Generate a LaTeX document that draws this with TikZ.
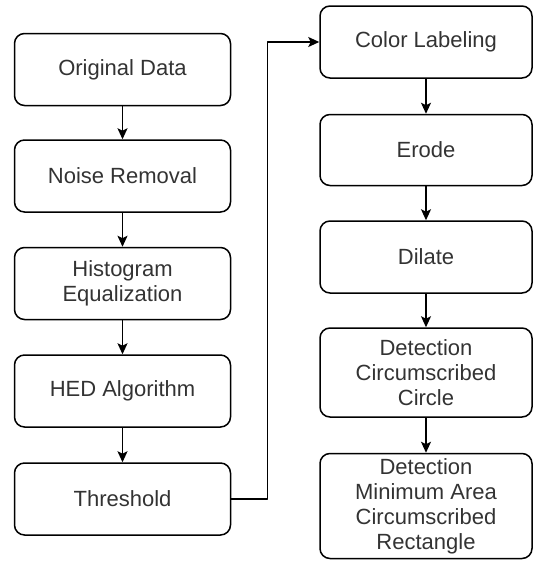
\documentclass[tikz,border=0pt]{standalone}
\usepackage{fontspec}
\setmainfont{Liberation Sans}
\usetikzlibrary{arrows.meta}
\definecolor{txtgray}{HTML}{333333}
\begin{document}
\begin{tikzpicture}[>={Stealth[length=11bp,width=10bp,inset=2.5bp]},line join=bevel,
  procbox/.style={draw=black,line width=1.5bp,rounded corners=10bp,align=center,inner sep=0pt,
    text=txtgray,font=\fontsize{22bp}{25bp}\selectfont},
  leftbox/.style={procbox,minimum width=216bp,minimum height=72bp},
  rightbox/.style={procbox,minimum width=212bp},
  flow/.style={black,line width=1.5bp,->}]
%%
\useasboundingbox (0bp,0bp) rectangle (534bp,-562bp);
\node (node_0) at (122.5bp,-69.5bp) [leftbox] {Original Data};
  \node (node_1) at (122.5bp,-176bp) [leftbox] {Noise Removal};
  \node (node_2) at (122.5bp,-283.5bp) [leftbox] {Histogram\\Equalization};
  \node (node_3) at (122.5bp,-391bp) [leftbox] {HED Algorithm};
  \node (node_4) at (122.5bp,-499bp) [leftbox] {Threshold};
  \node (node_5) at (426bp,-42bp) [rightbox,minimum height=72bp] {Color Labeling};
  \node (node_6) at (426bp,-150bp) [rightbox,minimum height=71bp] {Erode};
  \node (node_7) at (426bp,-257bp) [rightbox,minimum height=72bp] {Dilate};
  \node (node_8) at (426bp,-372.5bp) [rightbox,minimum height=89bp] {Detection\\Circumscribed\\Circle};
  \node (node_9) at (426bp,-506bp) [rightbox,minimum height=105bp] {Detection\\Minimum Area\\Circumscribed\\Rectangle};
  \draw [flow] (node_0) -- (node_1);
  \draw [flow] (node_1) -- (node_2);
  \draw [flow] (node_2) -- (node_3);
  \draw [flow] (node_3) -- (node_4);
  \draw [flow] (node_4.east) -- ++(36bp,0bp) |- (node_5.west);
  \draw [flow] (node_5) -- (node_6);
  \draw [flow] (node_6) -- (node_7);
  \draw [flow] (node_7) -- (node_8);
  \draw [flow] (node_8) -- (node_9);
%
\end{tikzpicture}
\end{document}
